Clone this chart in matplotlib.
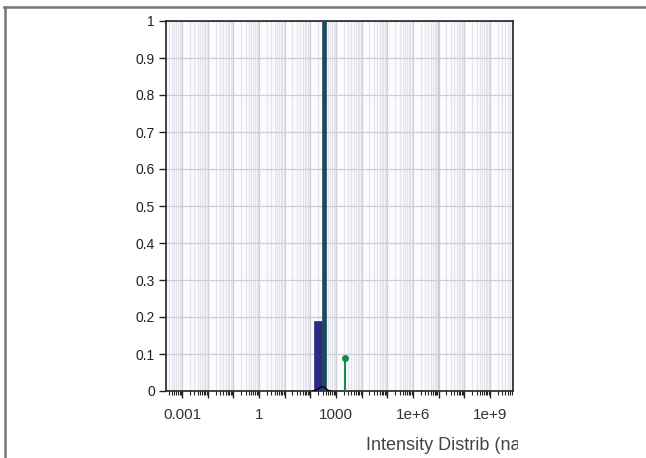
import numpy as np
import matplotlib
matplotlib.use("Agg")
import matplotlib.pyplot as plt
from matplotlib.lines import Line2D
from matplotlib.patches import Rectangle
from matplotlib.ticker import LogLocator, FixedLocator, NullFormatter

plt.rcParams['font.family'] = ['Liberation Sans', 'DejaVu Sans']

# данные: столбики распределения (левый край, правый край, высота)
bin_left = [140, 275]
bin_right = [275, 420]
bin_height = [0.19, 1.0]
bin_colors = ['#2b2b86', '#1d4a5c']

# отдельный пик (стебель с точкой)
stem_x = [2300]
stem_y = [0.09]

# маленькая чёрная кривая у основания
curve_x = [120, 170, 220, 280, 340, 420, 520, 640]
curve_y = [0.0, 0.003, 0.008, 0.012, 0.010, 0.005, 0.001, 0.0]

y_ticks = [0, 0.1, 0.2, 0.3, 0.4, 0.5, 0.6, 0.7, 0.8, 0.9, 1]
y_labels = ['0', '0.1', '0.2', '0.3', '0.4', '0.5', '0.6', '0.7', '0.8', '0.9', '1']
x_ticks = [1e-3, 1, 1e3, 1e6, 1e9]
x_labels = ['0.001', '1', '1000', '1e+6', '1e+9']

fig = plt.figure(figsize=(6.46, 4.58), dpi=100)
W, H = 646, 458
ax = fig.add_axes([166 / W, 1 - 391 / H, (513 - 166) / W, (391 - 21) / H])
ax.set_facecolor('#fcfcff')

ax.set_xscale('log')
ax.set_xlim(10 ** -3.63, 10 ** 9.9)
ax.set_ylim(0, 1)

# сетка
ax.xaxis.set_minor_locator(LogLocator(base=10, subs=np.arange(2, 10), numticks=40))
ax.xaxis.set_major_locator(FixedLocator([10.0 ** k for k in range(-3, 10)]))
ax.grid(True, which='major', axis='x', color='#cbcbd3', lw=1.6)
ax.grid(True, which='minor', axis='x', color='#e4e4ec', lw=0.9)
ax.grid(True, which='major', axis='y', color='#cdcdd4', lw=0.9)
ax.set_axisbelow(True)

for l, r, h, c in zip(bin_left, bin_right, bin_height, bin_colors):
    ax.bar(l, h, width=r - l, align='edge', color=c, edgecolor=c, lw=0.5, zorder=3)

ax.plot(curve_x, curve_y, color='black', lw=1, zorder=4)

for sx, sy in zip(stem_x, stem_y):
    ax.plot([sx, sx], [0, sy], color='#1a8a4a', lw=1.5, zorder=4)
    ax.plot([sx], [sy], 'o', color='#1a8a4a', ms=4, zorder=5)

ax.set_yticks(y_ticks)
ax.set_yticklabels(y_labels)
ax.xaxis.set_major_formatter(NullFormatter())
ax.xaxis.set_minor_formatter(NullFormatter())
ax.tick_params(axis='x', which='major', length=5, width=1, direction='out', colors='#222222')
ax.tick_params(axis='x', which='minor', length=3, width=0.8, direction='out', colors='#222222')
ax.tick_params(axis='y', length=5, width=1, direction='out', labelsize=10, pad=3, colors='#222222')
for lx, lt in zip(x_ticks, x_labels):
    ax.text(lx, -0.045, lt, ha='center', va='top', fontsize=11, color='#333333',
            transform=ax.get_xaxis_transform())

for s in ax.spines.values():
    s.set_color('#222222')
    s.set_linewidth(1.2)

# подпись оси, обрезанная справа
fig.text(366 / W, 1 - 445 / H, 'Intensity Distrib (nat)', ha='left', va='center',
         fontsize=13, color='#444444')
fig.add_artist(Rectangle((518 / W, 0), 1, 32 / H, transform=fig.transFigure,
                         facecolor='white', edgecolor='none', zorder=10))

# рамка вокруг рисунка
fig.add_artist(Line2D([4 / W, 1], [1 - 7 / H, 1 - 7 / H], color='#777777', lw=1.8, zorder=11))
fig.add_artist(Line2D([5 / W, 5 / W], [0, 1 - 7 / H], color='#777777', lw=1.8, zorder=11))

fig.savefig('out.png', dpi=100)
